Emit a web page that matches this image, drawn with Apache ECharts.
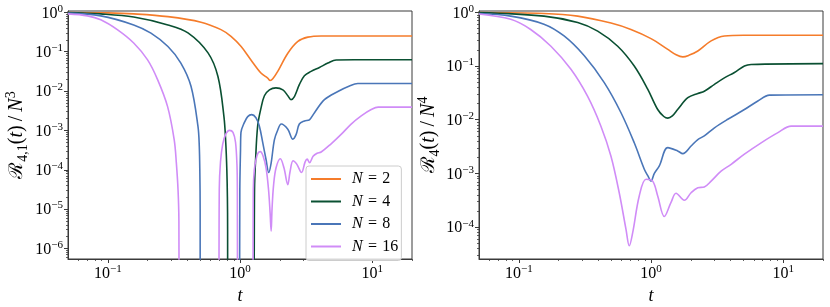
<!DOCTYPE html>
<html><head><meta charset="utf-8">
<script src="https://cdn.jsdelivr.net/npm/echarts@6/dist/echarts.min.js"></script>
<style>html,body{margin:0;padding:0;background:#fff}#c{width:830px;height:307px}</style>
</head><body><div id="c"></div>
<script>
// ---------- data ----------
const seriesNames = ['N = 2', 'N = 4', 'N = 8', 'N = 16'];
const seriesColors = ['#f57c2b', '#0a5032', '#4a76b8', '#d08cf7'];

// Left panel: R_{4,1}(t)/N^3
const tL_N2 = [0.05, 0.1, 0.157, 0.285, 0.507, 0.718, 0.855, 1.02, 1.21, 1.44, 1.62, 1.69, 1.77, 1.93, 2.30, 2.74, 3.26, 4.11, 6, 20];
const yL_N2 = [0.989, 0.966, 0.912, 0.776, 0.562, 0.363, 0.245, 0.135, 0.0617, 0.0288, 0.0214, 0.0186, 0.0204, 0.0316, 0.0912, 0.182, 0.234, 0.251, 0.25, 0.25];

const tL_N4 = [0.05, 0.0885, 0.157, 0.285, 0.404, 0.573, 0.681, 0.756, 0.78, 0.795, 0.803, 0.806, 0.807, 1.265, 1.288, 1.31, 1.36, 1.44, 1.53, 1.67, 1.87, 2.11, 2.30, 2.43, 2.58, 2.81, 3.07, 3.45, 3.99, 4.62, 5.34, 7.3, 20];
const yL_N4 = [0.99, 0.912, 0.759, 0.479, 0.302, 0.0933, 0.0234, 0.00224, 5e-4, 1e-4, 2e-5, 3e-6, 1e-9, 1e-9, 3.2e-5, 1.6e-4, 0.00129, 0.00363, 0.00759, 0.0107, 0.012, 0.0107, 0.00759, 0.00603, 0.00724, 0.0145, 0.0245, 0.0316, 0.0398, 0.0513, 0.0617, 0.0625, 0.0625];

const tL_N8 = [0.05, 0.0885, 0.157, 0.212, 0.285, 0.357, 0.426, 0.481, 0.492, 0.497, 0.4995, 0.5, 0.988, 0.997, 1.009, 1.017, 1.078, 1.144, 1.226, 1.32, 1.40, 1.486, 1.574, 1.65, 1.72, 1.82, 1.93, 2.05, 2.30, 2.51, 2.66, 2.81, 3.07, 3.35, 3.66, 4.35, 5.50, 6.73, 7.79, 20];
const yL_N8 = [0.955, 0.813, 0.479, 0.295, 0.135, 0.0513, 0.0132, 0.00126, 4e-4, 8e-5, 1e-5, 1e-9, 1e-9, 3.2e-5, 3.2e-4, 8.9e-4, 0.00158, 0.00224, 0.00251, 0.00209, 0.00129, 4.9e-4, 1.82e-4, 8.5e-5, 1.48e-4, 5.75e-4, 0.00102, 0.00145, 0.00107, 6.0e-4, 7.9e-4, 0.00145, 0.00174, 0.00186, 0.00282, 0.00603, 0.00977, 0.0135, 0.0155, 0.0156];

const tL_N16 = [0.05, 0.0702, 0.0885, 0.118, 0.157, 0.200, 0.238, 0.283, 0.318, 0.33, 0.34, 0.345, 0.347, 0.690, 0.697, 0.712, 0.74, 0.779, 0.833, 0.885, 0.925, 0.949, 0.955, 0.961, 1.248, 1.261, 1.283, 1.32, 1.368, 1.425, 1.494, 1.574, 1.643, 1.69, 1.72, 1.747, 1.794, 1.874, 2.02, 2.15, 2.30, 2.39, 2.52, 2.68, 2.92, 3.11, 3.22, 3.36, 3.57, 3.83, 4.11, 4.89, 5.82, 6.93, 8.26, 9.83, 11.1, 20];
const yL_N16 = [0.912, 0.813, 0.646, 0.363, 0.166, 0.0617, 0.0195, 0.00407, 5.75e-4, 1.5e-4, 3e-5, 5e-6, 1e-9, 1e-9, 3.2e-5, 1.6e-4, 4.5e-4, 7.9e-4, 0.001, 8.9e-4, 5e-4, 1.26e-4, 2.5e-5, 1e-9, 1e-9, 3.2e-5, 1e-4, 1.78e-4, 2.63e-4, 2.88e-4, 2.24e-4, 1.12e-4, 3.2e-5, 7.9e-6, 2.75e-6, 1e-5, 4e-5, 1.12e-4, 1.9e-4, 1.12e-4, 4.2e-5, 8.9e-5, 1.7e-4, 1.41e-4, 8.5e-5, 1.58e-4, 1.86e-4, 1.51e-4, 2.19e-4, 2.63e-4, 2.82e-4, 4.57e-4, 7.9e-4, 0.00145, 0.00234, 0.00339, 0.0039, 0.0039];

// Right panel: R_4(t)/N^4
const tR_N2 = [0.05, 0.155, 0.279, 0.498, 0.705, 1.0, 1.34, 1.55, 1.74, 1.95, 2.26, 2.85, 3.59, 5.09, 20];
const yR_N2 = [0.995, 0.955, 0.851, 0.631, 0.479, 0.324, 0.204, 0.162, 0.148, 0.16, 0.191, 0.295, 0.363, 0.374, 0.375];

const tR_N4 = [0.05, 0.155, 0.279, 0.395, 0.560, 0.747, 0.944, 1.124, 1.25, 1.34, 1.45, 1.59, 1.90, 2.26, 2.53, 3.02, 3.59, 4.28, 5.09, 5.72, 20];
const yR_N4 = [0.99, 0.851, 0.646, 0.447, 0.234, 0.1, 0.0372, 0.0155, 0.0115, 0.0107, 0.0118, 0.0155, 0.0257, 0.0309, 0.0339, 0.0457, 0.0603, 0.0759, 0.1, 0.107, 0.111];

const tR_N8 = [0.05, 0.0869, 0.155, 0.220, 0.313, 0.443, 0.593, 0.747, 0.890, 0.95, 1.0, 1.06, 1.156, 1.34, 1.59, 1.74, 2.01, 2.26, 2.53, 3.02, 3.81, 5.09, 6.43, 7.88, 20];
const yR_N8 = [0.955, 0.851, 0.603, 0.363, 0.155, 0.049, 0.0135, 0.00372, 0.0012, 8.9e-4, 7.2e-4, 0.001, 0.00138, 0.00302, 0.00263, 0.00234, 0.00324, 0.00427, 0.00501, 0.00708, 0.0102, 0.0155, 0.0224, 0.0288, 0.0293];

const tR_N16 = [0.05, 0.0869, 0.123, 0.175, 0.248, 0.331, 0.418, 0.498, 0.575, 0.647, 0.685, 0.727, 0.815, 0.917, 1.03, 1.124, 1.261, 1.417, 1.546, 1.787, 2.01, 2.26, 2.53, 2.85, 3.39, 4.04, 5.09, 6.81, 9.12, 11.5, 20];
const yR_N16 = [0.933, 0.741, 0.479, 0.234, 0.0871, 0.0275, 0.00759, 0.00209, 4.37e-4, 9.1e-5, 4.5e-5, 7.9e-5, 3.8e-4, 7.8e-4, 7.2e-4, 3.8e-4, 1.58e-4, 2.88e-4, 4.27e-4, 3.16e-4, 4.37e-4, 5.4e-4, 5.6e-4, 7.2e-4, 0.0011, 0.00148, 0.00229, 0.00372, 0.00575, 0.0076, 0.0076];

// ticks
const xMajorTicks = [0.1, 1, 10];
const xMinorTicks = [0.06, 0.07, 0.08, 0.09, 0.2, 0.3, 0.4, 0.5, 0.6, 0.7, 0.8, 0.9, 2, 3, 4, 5, 6, 7, 8, 9, 20];
const yMajorTicksL = [1e-6, 1e-5, 1e-4, 1e-3, 1e-2, 1e-1, 1];
const yMajorTicksR = [1e-4, 1e-3, 1e-2, 1e-1, 1];
const xRange = [0.05, 20];
const yRangeL = [5.4e-7, 1.08];
const yRangeR = [2.55e-5, 1.06];

// ---------- chart ----------
function minorLogTicks(lo, hi) {
  const out = [];
  for (let d = Math.floor(Math.log10(lo)); d <= Math.ceil(Math.log10(hi)); d++) {
    for (let m = 2; m <= 9; m++) {
      const v = m * Math.pow(10, d);
      if (v >= lo && v <= hi) out.push(v);
    }
  }
  return out;
}
const FONT = 'Liberation Serif';
const AX = '#3a3a3a';
const labRich = {
  b: { fontFamily: FONT, fontSize: 16, lineHeight: 18, verticalAlign: 'bottom', color: '#000' },
  s: { fontFamily: FONT, fontSize: 11, lineHeight: 11, verticalAlign: 'top', color: '#000' }
};
function powFmt(v) {
  const e = Math.round(Math.log10(v));
  return '{b|10}{s|' + (e < 0 ? '\u2212' + (-e) : String(e)) + '}';
}
function mainAxis(gi, range, ticks, extra) {
  return Object.assign({
    type: 'log', logBase: 10, gridIndex: gi, min: range[0], max: range[1],
    axisLine: { show: true, onZero: false, lineStyle: { color: AX, width: 1 } },
    axisTick: { show: true, inside: false, length: 4, customValues: ticks, lineStyle: { color: AX, width: 1 } },
    axisLabel: { show: true, customValues: ticks, formatter: powFmt, color: '#000', rich: labRich, margin: 5 },
    splitLine: { show: false }, minorTick: { show: false }, minorSplitLine: { show: false }
  }, extra);
}
function minorAxis(gi, range, ticks, extra) {
  return Object.assign({
    type: 'log', logBase: 10, gridIndex: gi, min: range[0], max: range[1],
    axisLine: { show: false },
    axisTick: { show: true, inside: false, length: 2, customValues: ticks, lineStyle: { color: AX, width: 0.8 } },
    axisLabel: { show: false }, splitLine: { show: false }
  }, extra);
}
const nameRichBase = {
  cal: { fontFamily: 'DejaVu Serif', fontSize: 19, lineHeight: 26, verticalAlign: 'middle', color: '#000' },
  n: { fontFamily: FONT, fontSize: 20, lineHeight: 26, verticalAlign: 'middle', color: '#000' },
  i: { fontFamily: FONT, fontStyle: 'italic', fontSize: 20, lineHeight: 26, verticalAlign: 'middle', color: '#000' },
  sub: { fontFamily: FONT, fontSize: 14, lineHeight: 13, verticalAlign: 'bottom', color: '#000' },
  sup: { fontFamily: FONT, fontSize: 14, lineHeight: 14, verticalAlign: 'top', color: '#000' }
};
const xName = { name: 't', nameLocation: 'middle', nameGap: 18,
  nameTextStyle: { fontFamily: FONT, fontStyle: 'italic', fontSize: 18, color: '#000' } };

const grids = [
  { left: 68, top: 11, width: 344, height: 248, show: true, borderColor: AX, borderWidth: 1, backgroundColor: 'transparent', containLabel: false, outerBoundsMode: 'none' },
  { left: 479, top: 11, width: 344, height: 248, show: true, borderColor: AX, borderWidth: 1, backgroundColor: 'transparent', containLabel: false, outerBoundsMode: 'none' }
];
const xAxes = [
  mainAxis(0, xRange, xMajorTicks, Object.assign({ position: 'bottom' }, xName)),
  mainAxis(1, xRange, xMajorTicks, Object.assign({ position: 'bottom' }, xName)),
  minorAxis(0, xRange, xMinorTicks, { position: 'bottom' }),
  minorAxis(1, xRange, xMinorTicks, { position: 'bottom' })
];
const yAxes = [
  mainAxis(0, yRangeL, yMajorTicksL, { position: 'left', name: '{cal|\u211B}{sub|4,1}{n|(}{i|t}{n|)\u2009/\u2009}{i|N}{sup|3}', nameLocation: 'middle', nameGap: 38, nameRotate: 90, nameTextStyle: { rich: nameRichBase } }),
  mainAxis(1, yRangeR, yMajorTicksR, { position: 'left', name: '{cal|\u211B}{sub|4}{n|(}{i|t}{n|)\u2009/\u2009}{i|N}{sup|4}', nameLocation: 'middle', nameGap: 37, nameRotate: 90, nameTextStyle: { rich: nameRichBase } }),
  minorAxis(0, yRangeL, minorLogTicks(yRangeL[0], yRangeL[1]), { position: 'left' }),
  minorAxis(1, yRangeR, minorLogTicks(yRangeR[0], yRangeR[1]), { position: 'left' })
];

const panels = [
  [[tL_N2, yL_N2], [tL_N4, yL_N4], [tL_N8, yL_N8], [tL_N16, yL_N16]],
  [[tR_N2, yR_N2], [tR_N4, yR_N4], [tR_N8, yR_N8], [tR_N16, yR_N16]]
];
const series = [];
panels.forEach((p, gi) => {
  p.forEach((pair, k) => {
    series.push({
      type: 'line', name: seriesNames[k], xAxisIndex: gi, yAxisIndex: gi,
      data: pair[0].map((t, j) => [t, pair[1][j]]),
      symbol: 'none', showSymbol: false, smooth: 0.35, clip: true,
      lineStyle: { width: 1.6, color: seriesColors[k] }, itemStyle: { color: seriesColors[k] },
      emphasis: { disabled: true }, silent: true
    });
  });
});

const chart = echarts.init(document.getElementById('c'), null, { renderer: 'canvas' });
chart.setOption({
  animation: false,
  backgroundColor: '#fff',
  grid: grids, xAxis: xAxes, yAxis: yAxes, series: series,
  legend: {
    data: seriesNames, left: 306, top: 166, orient: 'vertical',
    icon: 'rect', itemWidth: 30, itemHeight: 2, itemGap: 6.5, padding: [5, 3, 6, 5],
    backgroundColor: 'rgba(255,255,255,0.8)', borderColor: '#cccccc', borderWidth: 1, borderRadius: 3,
    selectedMode: false,
    formatter: n => '{i|N}{r|\u2004=\u2004' + n.split('= ')[1] + '}',
    textStyle: { rich: {
      i: { fontFamily: FONT, fontStyle: 'italic', fontSize: 16, lineHeight: 14, color: '#000', padding: [0, 0, 0, 6] },
      r: { fontFamily: FONT, fontSize: 16, lineHeight: 14, color: '#000' }
    } }
  }
});
</script>
</body></html>
